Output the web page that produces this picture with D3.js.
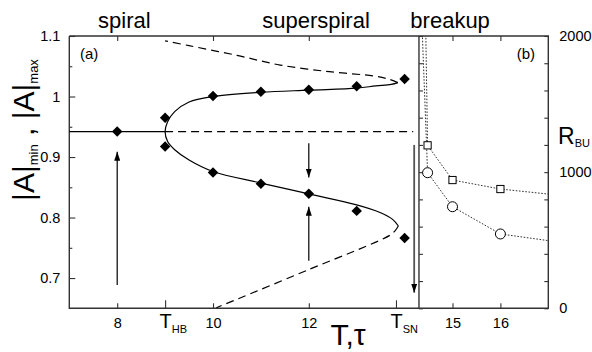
<!DOCTYPE html>
<html>
<head>
<meta charset="utf-8">
<script src="https://cdn.jsdelivr.net/npm/d3@7"></script>
<style>
  body { margin: 0; background: #fff; }
  svg { display: block; font-family: "Liberation Sans", Arial, sans-serif; }
</style>
</head>
<body>
<div id="chart"></div>
<script>
// ---- data ----
const regionNames = ["spiral", "superspiral", "breakup"];
const regionX = [8.15, 12.15, 14.95];

const bottomTicks = [8, 9, 10, 12, 13.82, 15, 16];
const bottomLabels = ["8", "T_HB", "10", "12", "T_SN", "15", "16"];
const topTicks = [8, 10, 12, 15, 16];
const ampTicks = [0.7, 0.8, 0.9, 1.0, 1.1];
const ampMinor = [0.75, 0.85, 0.95, 1.05];
const rbuTicks = [0, 200, 400, 600, 800, 1000, 1200, 1400, 1600, 1800, 2000];
const rbuLabels = [0, 1000, 2000];

// spiral (steady rotating) amplitude, stable then unstable past T_HB
const spiralAmp = 0.942;
const hopfT = 9;
// superspiral branch: upper/lower stable parts through the Hopf vertex
const solidT =   [13.86, 13.72, 13.4, 13, 12, 11, 10, 9.5, 9.2, 9.05, 9.0, 9.05, 9.2, 9.5, 10, 11, 12, 13, 13.5, 13.75, 13.87];
const solidAmp = [1.023, 1.020, 1.0175, 1.0138, 1.0105, 1.007, 1.0, 0.991, 0.975, 0.958, 0.942, 0.926, 0.912, 0.895, 0.876, 0.857, 0.839, 0.821, 0.808, 0.797, 0.786];
// unstable branches (dashed)
const upperDashT =   [13.86, 13.68, 13.4, 12.43, 11.4, 10.5, 9.5, 9.0];
const upperDashAmp = [1.023, 1.0284, 1.0335, 1.041, 1.052, 1.068, 1.084, 1.092];
const lowerDashT =   [13.87, 13.8, 13.7, 12, 10.07];
const lowerDashAmp = [0.786, 0.778, 0.771, 0.714, 0.651];

// simulation points (diamonds)
const diamondT =   [8, 9, 9, 10, 11, 12, 13, 14.0, 10, 11, 12, 13, 14.0];
const diamondAmp = [0.942, 0.965, 0.9175, 1.001, 1.008, 1.011, 1.017, 1.029, 0.8746, 0.856, 0.8394, 0.811, 0.7663];

// arrows
const arrowT =    [8, 12, 12, 14.2];
const arrowFrom = [0.6885, 0.9227, 0.7287, 0.92];
const arrowTo =   [0.9088, 0.866, 0.8179, 0.6758];

// panel (b): breakup radius R_BU vs tau
const squareTau = [14.4, 14.48, 15, 16, 17];
const squareR =   [2950, 1197, 942, 876, 839];
const circleTau = [14.35, 14.48, 15, 16, 17];
const circleR =   [2200, 996, 746, 546, 497];
const markerTau = [14.48, 15, 16];
const squareMarkR = [1197, 942, 876];
const circleMarkR = [996, 746, 546];

// ---- layout ----
const W = 592, H = 352;
const mLeft = 69.3, mRight = 548.3, mTop = 36, mBottom = 308.3;
const divideAt = 14.3;

const x = d3.scaleLinear().domain([7, 17]).range([mLeft, mRight]);
const yA = d3.scaleLinear().domain([0.65, 1.1]).range([mBottom, mTop]);
const yB = d3.scaleLinear().domain([0, 2000]).range([mBottom, mTop]);

const svg = d3.select("#chart").append("svg")
  .attr("width", W).attr("height", H);

const axisColor = "#333";

const defs = svg.append("defs");
defs.append("clipPath").attr("id", "clipB")
  .append("rect")
  .attr("x", x(divideAt)).attr("y", mTop)
  .attr("width", mRight - x(divideAt)).attr("height", mBottom - mTop);
defs.append("marker").attr("id", "head")
  .attr("markerUnits", "userSpaceOnUse")
  .attr("markerWidth", 9).attr("markerHeight", 6)
  .attr("refX", 9).attr("refY", 3).attr("orient", "auto")
  .append("path").attr("d", "M0,0 L9,3 L0,6 Z").attr("fill", "#000");

// ---- axes ----
function styleAxis(g) {
  g.select(".domain").remove();
  g.selectAll(".tick line").attr("stroke", axisColor).attr("stroke-width", 1.1);
  g.selectAll(".tick text").attr("fill", "#000").attr("font-size", 14.5)
    .attr("font-family", "Liberation Sans, Arial, sans-serif");
}

svg.append("g").attr("transform", `translate(${mLeft},0)`)
  .call(d3.axisLeft(yA).tickValues(ampTicks).tickSize(-6).tickPadding(9)
    .tickFormat(d => d === 1 ? "1" : d3.format(".1f")(d)))
  .call(styleAxis);
svg.append("g").attr("transform", `translate(${mLeft},0)`)
  .call(d3.axisLeft(yA).tickValues(ampMinor).tickSize(-3).tickFormat(""))
  .call(styleAxis);

svg.append("g").attr("transform", `translate(0,${mTop})`)
  .call(d3.axisTop(x).tickValues(topTicks).tickSize(-5).tickFormat(""))
  .call(styleAxis);

const bAxis = svg.append("g").attr("transform", `translate(0,${mBottom})`)
  .call(d3.axisBottom(x).tickValues(bottomTicks).tickSize(-5).tickPadding(9)
    .tickFormat((d, i) => bottomLabels[i]))
  .call(styleAxis);
bAxis.selectAll(".tick").each(function (d, i) {
  const lab = bottomLabels[i];
  if (!lab.startsWith("T_")) return;
  const g = d3.select(this);
  g.select("line").attr("y2", -8);
  const t = g.select("text").text(null)
    .attr("text-anchor", "start").attr("x", -6).attr("y", 19.5).attr("dy", null);
  t.append("tspan").attr("font-size", 20).text("T");
  t.append("tspan").attr("font-size", 11).attr("dy", 5).text(lab.slice(2));
});

svg.append("g").attr("transform", `translate(${mRight},0)`)
  .call(d3.axisRight(yB).tickValues(rbuTicks).tickSize(-4).tickPadding(11)
    .tickFormat(d => rbuLabels.includes(d) ? d : ""))
  .call(styleAxis);
svg.append("g").attr("transform", `translate(${x(divideAt)},0)`)
  .call(d3.axisLeft(yB).tickValues(rbuTicks).tickSize(-4).tickFormat(""))
  .call(styleAxis);

// frame
const frame = svg.append("g").attr("stroke", axisColor).attr("stroke-width", 1.4).attr("fill", "none");
frame.append("path").attr("d", `M${mLeft},${mTop} V${mBottom} H${mRight} V${mTop} H${mLeft}`);
frame.append("line").attr("x1", x(divideAt)).attr("x2", x(divideAt))
  .attr("y1", mTop).attr("y2", mBottom);

// ---- panel (a) ----
const curve = d3.line().x(d => x(d[0])).y(d => yA(d[1])).curve(d3.curveCatmullRom.alpha(0.5));
const zip = (a, b) => a.map((v, i) => [v, b[i]]);

const pa = svg.append("g").attr("fill", "none").attr("stroke", "#000").attr("stroke-width", 1.2);
pa.append("line").attr("x1", x(7)).attr("x2", x(hopfT))
  .attr("y1", yA(spiralAmp)).attr("y2", yA(spiralAmp));
pa.append("line").attr("x1", x(hopfT)).attr("x2", x(14.18))
  .attr("y1", yA(spiralAmp)).attr("y2", yA(spiralAmp))
  .attr("stroke-dasharray", "8,5");
pa.append("path").attr("d", curve(zip(solidT, solidAmp)));
pa.append("path").attr("d", curve(zip(upperDashT, upperDashAmp))).attr("stroke-dasharray", "8,5");
pa.append("path").attr("d", curve(zip(lowerDashT, lowerDashAmp))).attr("stroke-dasharray", "8,5");

// arrows
arrowT.forEach((t, i) => {
  const last = i === arrowT.length - 1;
  svg.append("line")
    .attr("x1", x(t)).attr("x2", x(t))
    .attr("y1", yA(arrowFrom[i])).attr("y2", yA(arrowTo[i]))
    .attr("stroke", last ? "#555" : "#000")
    .attr("stroke-width", last ? 1.8 : 1.2)
    .attr("marker-end", "url(#head)");
});

// diamonds
svg.append("g").selectAll("path").data(zip(diamondT, diamondAmp)).join("path")
  .attr("d", d3.symbol(d3.symbolSquare, 55))
  .attr("transform", d => `translate(${x(d[0])},${yA(d[1])}) rotate(45)`)
  .attr("fill", "#000");

// ---- panel (b) ----
const lineB = d3.line().x(d => x(d[0])).y(d => yB(d[1]));
const pb = svg.append("g").attr("clip-path", "url(#clipB)")
  .attr("fill", "none").attr("stroke", "#333").attr("stroke-width", 1)
  .attr("stroke-dasharray", "1.6,1.6");
pb.append("path").attr("d", lineB(zip(squareTau, squareR)));
pb.append("path").attr("d", lineB(zip(circleTau, circleR)));

svg.append("g").selectAll("rect").data(zip(markerTau, squareMarkR)).join("rect")
  .attr("x", d => x(d[0]) - 3.6).attr("y", d => yB(d[1]) - 3.6)
  .attr("width", 7.2).attr("height", 7.2)
  .attr("fill", "#fff").attr("stroke", "#000").attr("stroke-width", 1);
svg.append("g").selectAll("circle").data(zip(markerTau, circleMarkR)).join("circle")
  .attr("cx", d => x(d[0])).attr("cy", d => yB(d[1])).attr("r", 5)
  .attr("fill", "#fff").attr("stroke", "#000").attr("stroke-width", 1);

// ---- texts ----
svg.append("g").selectAll("text").data(regionNames).join("text")
  .attr("x", (d, i) => x(regionX[i])).attr("y", 27.5)
  .attr("text-anchor", "middle").attr("font-size", 22).text(d => d);

svg.append("text").attr("x", 80).attr("y", 59).attr("font-size", 15).text("(a)");
svg.append("text").attr("x", 535).attr("y", 59).attr("font-size", 15)
  .attr("text-anchor", "end").text("(b)");

const yl = svg.append("text").attr("transform", "translate(33.5,130) rotate(-90)")
  .attr("text-anchor", "middle").attr("font-size", 30);
yl.append("tspan").text("|A|");
yl.append("tspan").attr("font-size", 13).attr("dy", 4.5).text("min");
yl.append("tspan").attr("dy", -4.5).text(" , ");
yl.append("tspan").text("|A|");
yl.append("tspan").attr("font-size", 13).attr("dy", 4.5).text("max");

svg.append("text").attr("x", 348).attr("y", 345).attr("text-anchor", "middle")
  .attr("font-size", 30).text("T,τ");

const rl = svg.append("text").attr("x", 558).attr("y", 143.5).attr("font-size", 23);
rl.append("tspan").text("R");
rl.append("tspan").attr("font-size", 11).attr("dy", 3.5).text("BU");
</script>
</body>
</html>
